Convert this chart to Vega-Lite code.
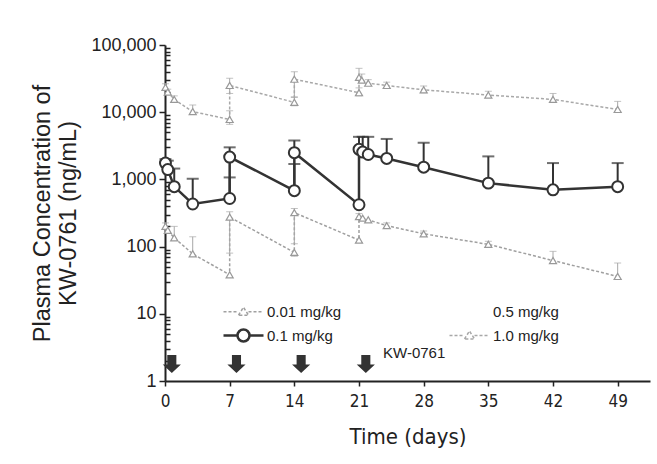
{
  "$schema": "https://vega.github.io/schema/vega-lite/v6.json",
  "width": 485,
  "height": 336,
  "autosize": {"type": "none"},
  "padding": {"left": 165, "top": 45, "right": 7, "bottom": 83},
  "background": "white",
  "config": {
    "view": {"stroke": null},
    "font": "Liberation Sans",
    "axis": {"grid": false, "domainColor": "#222", "tickColor": "#222", "labelColor": "#222", "titleColor": "#222", "domainWidth": 2, "tickWidth": 1.5}
  },
  "datasets": {
    "pk": [
      {"dose":"1.0 mg/kg","day":0.05,"conc":23500,"hi":26500,"seq":1},
      {"dose":"1.0 mg/kg","day":0.3,"conc":20000,"hi":22000,"seq":2},
      {"dose":"1.0 mg/kg","day":1,"conc":15500,"hi":17500,"seq":3},
      {"dose":"1.0 mg/kg","day":3,"conc":10200,"hi":12800,"seq":4},
      {"dose":"1.0 mg/kg","day":7,"conc":7800,"hi":10500,"lo":6600,"seq":5},
      {"dose":"1.0 mg/kg","day":7,"conc":25000,"hi":32000,"lo":19000,"seq":6},
      {"dose":"1.0 mg/kg","day":14,"conc":14000,"hi":16500,"lo":12500,"seq":7},
      {"dose":"1.0 mg/kg","day":14,"conc":31000,"hi":40000,"lo":17000,"seq":8},
      {"dose":"1.0 mg/kg","day":21,"conc":19500,"hi":23000,"lo":17500,"seq":9},
      {"dose":"1.0 mg/kg","day":21,"conc":33000,"hi":45000,"seq":10},
      {"dose":"1.0 mg/kg","day":21.3,"conc":30000,"hi":37000,"seq":11},
      {"dose":"1.0 mg/kg","day":22,"conc":27000,"hi":30500,"seq":12},
      {"dose":"1.0 mg/kg","day":24,"conc":25000,"hi":28000,"seq":13},
      {"dose":"1.0 mg/kg","day":28,"conc":21500,"hi":24500,"lo":19500,"seq":14},
      {"dose":"1.0 mg/kg","day":35,"conc":18000,"hi":20500,"seq":15},
      {"dose":"1.0 mg/kg","day":42,"conc":15500,"hi":19000,"seq":16},
      {"dose":"1.0 mg/kg","day":49,"conc":11000,"hi":14500,"lo":10000,"seq":17},
      {"dose":"0.1 mg/kg","day":0.05,"conc":1750,"hi":2000,"seq":1},
      {"dose":"0.1 mg/kg","day":0.3,"conc":1400,"hi":1900,"seq":2},
      {"dose":"0.1 mg/kg","day":1,"conc":780,"hi":1450,"seq":3},
      {"dose":"0.1 mg/kg","day":3,"conc":430,"hi":1020,"seq":4},
      {"dose":"0.1 mg/kg","day":7,"conc":520,"hi":1070,"seq":5},
      {"dose":"0.1 mg/kg","day":7,"conc":2150,"hi":3000,"seq":6},
      {"dose":"0.1 mg/kg","day":14,"conc":680,"hi":1700,"seq":7},
      {"dose":"0.1 mg/kg","day":14,"conc":2500,"hi":3800,"seq":8},
      {"dose":"0.1 mg/kg","day":21,"conc":420,"seq":9},
      {"dose":"0.1 mg/kg","day":21,"conc":2800,"hi":4300,"seq":10},
      {"dose":"0.1 mg/kg","day":21.4,"conc":2550,"hi":4300,"seq":11},
      {"dose":"0.1 mg/kg","day":22,"conc":2350,"hi":4300,"seq":12},
      {"dose":"0.1 mg/kg","day":24,"conc":2050,"hi":4000,"seq":13},
      {"dose":"0.1 mg/kg","day":28,"conc":1520,"hi":3500,"seq":14},
      {"dose":"0.1 mg/kg","day":35,"conc":880,"hi":2200,"seq":15},
      {"dose":"0.1 mg/kg","day":42,"conc":700,"hi":1750,"seq":16},
      {"dose":"0.1 mg/kg","day":49,"conc":780,"hi":1750,"seq":17},
      {"dose":"0.01 mg/kg","day":0.05,"conc":200,"hi":225,"seq":1},
      {"dose":"0.01 mg/kg","day":0.3,"conc":175,"seq":2},
      {"dose":"0.01 mg/kg","day":1,"conc":135,"hi":200,"seq":3},
      {"dose":"0.01 mg/kg","day":3,"conc":78,"hi":140,"seq":4},
      {"dose":"0.01 mg/kg","day":7,"conc":38,"seq":5},
      {"dose":"0.01 mg/kg","day":7,"conc":275,"hi":330,"lo":80,"seq":6},
      {"dose":"0.01 mg/kg","day":14,"conc":82,"lo":72,"seq":7},
      {"dose":"0.01 mg/kg","day":14,"conc":320,"hi":370,"lo":110,"seq":8},
      {"dose":"0.01 mg/kg","day":21,"conc":125,"lo":115,"seq":9},
      {"dose":"0.01 mg/kg","day":21,"conc":280,"hi":310,"seq":10},
      {"dose":"0.01 mg/kg","day":21.4,"conc":265,"seq":11},
      {"dose":"0.01 mg/kg","day":22,"conc":250,"seq":12},
      {"dose":"0.01 mg/kg","day":24,"conc":205,"hi":225,"seq":13},
      {"dose":"0.01 mg/kg","day":28,"conc":155,"hi":170,"seq":14},
      {"dose":"0.01 mg/kg","day":35,"conc":108,"hi":120,"seq":15},
      {"dose":"0.01 mg/kg","day":42,"conc":62,"hi":85,"seq":16},
      {"dose":"0.01 mg/kg","day":49,"conc":36,"hi":57,"seq":17}
    ],
    "dosing": [{"dosingDay": 0, "agent": "KW-0761"}, {"dosingDay": 7, "agent": "KW-0761"}, {"dosingDay": 14, "agent": "KW-0761"}, {"dosingDay": 21, "agent": "KW-0761"}]
  },
  "layer": [
    {
      "data": {"name": "pk"},
      "transform": [{"filter": "datum.dose !== '0.1 mg/kg'"}],
      "mark": {"type": "line", "strokeWidth": 1.5, "strokeDash": [3, 2]},
      "encoding": {
        "x": {
          "field": "day", "type": "quantitative",
          "scale": {"domain": [0, 52.5], "nice": false, "zero": false},
          "axis": {
            "values": [0, 7, 14, 21, 28, 35, 42, 49],
            "tickSize": 5,
            "labelFont": "DejaVu Sans Condensed",
            "labelFontSize": 17,
            "labelPadding": 7,
            "labelFlush": false,
            "title": "Time (days)",
            "titleFont": "DejaVu Sans Condensed",
            "titleFontSize": 22,
            "titleFontWeight": "normal",
            "titlePadding": 17
          }
        },
        "y": {
          "field": "conc", "type": "quantitative",
          "scale": {"type": "log", "domain": [1, 100000], "nice": false},
          "axis": {
            "values": [1,2,3,4,5,6,7,8,9,10,20,30,40,50,60,70,80,90,100,200,300,400,500,600,700,800,900,1000,2000,3000,4000,5000,6000,7000,8000,9000,10000,20000,30000,40000,50000,60000,70000,80000,90000,100000],
            "labelExpr": "indexof([1,10,100,1000,10000,100000], datum.value) >= 0 ? format(datum.value, ',') : ''",
            "tickSize": {"condition": {"test": "indexof([1,10,100,1000,10000,100000], datum.value) >= 0", "value": 6}, "value": -5},
            "labelFontSize": 18,
            "labelPadding": 3,
            "labelFlush": false,
            "labelOverlap": false,
            "title": ["Plasma Concentration of", "KW-0761 (ng/mL)"],
            "titleFontSize": 23.5,
            "titleFontWeight": "normal",
            "titleLineHeight": 26,
            "titlePadding": 10
          }
        },
        "order": {"field": "seq"},
        "detail": {"field": "dose"},
        "color": {
          "field": "dose", "type": "nominal",
          "scale": {"domain": ["0.01 mg/kg", "0.1 mg/kg", "0.5 mg/kg", "1.0 mg/kg"], "range": ["#a0a0a0", "#333333", "#ffffff", "#a8a8a8"]},
          "legend": {
            "values": ["0.01 mg/kg", "0.1 mg/kg", "0.5 mg/kg", "1.0 mg/kg"],
            "orient": "none", "legendX": 57, "legendY": 259,
            "title": null, "columns": 2, "columnPadding": 104, "rowPadding": 4, "padding": 0,
            "labelFont": "Liberation Sans", "labelFontSize": 15, "labelColor": "#222",
            "symbolSize": 100, "symbolStrokeWidth": 2, "labelOffset": 30,
            "encode": {
              "symbols": {
                "update": {
                  "shape": {"signal": "datum.value === '0.1 mg/kg' ? 'M-1.2,0H1.6M4,0H6.8M4,0A1.2,1.2 0 1 1 1.6,0A1.2,1.2 0 1 1 4,0' : (datum.value === '0.5 mg/kg' ? 'M0,0' : 'M-1.2,0H1.8M3.8,0H6.8M1.8,0.7L2.8,-0.9L3.8,0.7Z')"},
                  "stroke": {"signal": "datum.value === '0.1 mg/kg' ? '#333333' : '#a0a0a0'"},
                  "strokeDash": {"signal": "datum.value === '0.1 mg/kg' ? [] : [3, 2]"},
                  "strokeWidth": {"signal": "datum.value === '0.1 mg/kg' ? 2.5 : 1.5"},
                  "fill": {"value": "#ffffff"},
                  "opacity": {"value": 1}
                }
              }
            }
          }
        }
      }
    },
    {
      "data": {"name": "pk"},
      "transform": [{"filter": "datum.dose !== '0.1 mg/kg' && isValid(datum.hi)"}],
      "mark": {"type": "rule", "color": "#a8a8a8", "strokeWidth": 1},
      "encoding": {"x": {"field": "day", "type": "quantitative"}, "y": {"field": "conc", "type": "quantitative"}, "y2": {"field": "hi"}}
    },
    {
      "data": {"name": "pk"},
      "transform": [{"filter": "datum.dose !== '0.1 mg/kg' && isValid(datum.hi)"}],
      "mark": {"type": "tick", "orient": "horizontal", "color": "#a8a8a8", "thickness": 1, "size": 7},
      "encoding": {"x": {"field": "day", "type": "quantitative"}, "y": {"field": "hi", "type": "quantitative"}}
    },
    {
      "data": {"name": "pk"},
      "transform": [{"filter": "datum.dose !== '0.1 mg/kg' && isValid(datum.lo)"}],
      "mark": {"type": "rule", "color": "#a8a8a8", "strokeWidth": 1},
      "encoding": {"x": {"field": "day", "type": "quantitative"}, "y": {"field": "conc", "type": "quantitative"}, "y2": {"field": "lo"}}
    },
    {
      "data": {"name": "pk"},
      "transform": [{"filter": "datum.dose !== '0.1 mg/kg' && isValid(datum.lo)"}],
      "mark": {"type": "tick", "orient": "horizontal", "color": "#a8a8a8", "thickness": 1, "size": 7},
      "encoding": {"x": {"field": "day", "type": "quantitative"}, "y": {"field": "lo", "type": "quantitative"}}
    },
    {
      "data": {"name": "pk"},
      "transform": [{"filter": "datum.dose !== '0.1 mg/kg'"}],
      "mark": {"type": "point", "shape": "triangle-up", "filled": true, "fill": "#ffffff", "stroke": "#999999", "strokeWidth": 1.2, "size": 50, "opacity": 1},
      "encoding": {"x": {"field": "day", "type": "quantitative"}, "y": {"field": "conc", "type": "quantitative"}}
    },
    {
      "data": {"name": "pk"},
      "transform": [{"filter": "datum.dose === '0.1 mg/kg' && isValid(datum.hi)"}],
      "mark": {"type": "rule", "color": "#333333", "strokeWidth": 2},
      "encoding": {"x": {"field": "day", "type": "quantitative"}, "y": {"field": "conc", "type": "quantitative"}, "y2": {"field": "hi"}}
    },
    {
      "data": {"name": "pk"},
      "transform": [{"filter": "datum.dose === '0.1 mg/kg' && isValid(datum.hi)"}],
      "mark": {"type": "tick", "orient": "horizontal", "color": "#333333", "thickness": 2, "size": 12},
      "encoding": {"x": {"field": "day", "type": "quantitative"}, "y": {"field": "hi", "type": "quantitative"}}
    },
    {
      "data": {"name": "pk"},
      "transform": [{"filter": "datum.dose === '0.1 mg/kg'"}],
      "mark": {"type": "line", "color": "#333333", "strokeWidth": 2.5},
      "encoding": {"x": {"field": "day", "type": "quantitative"}, "y": {"field": "conc", "type": "quantitative"}, "order": {"field": "seq"}}
    },
    {
      "data": {"name": "pk"},
      "transform": [{"filter": "datum.dose === '0.1 mg/kg'"}],
      "mark": {"type": "point", "shape": "circle", "filled": true, "fill": "#ffffff", "stroke": "#333333", "strokeWidth": 2, "size": 120, "opacity": 1},
      "encoding": {"x": {"field": "day", "type": "quantitative"}, "y": {"field": "conc", "type": "quantitative"}}
    },
    {
      "data": {"name": "dosing"},
      "mark": {"type": "point", "filled": true, "color": "#333333", "size": 330, "opacity": 1, "shape": "M0.25,-1H1.25V0.05H1.75L0.75,1L-0.25,0.05H0.25Z"},
      "encoding": {"x": {"field": "dosingDay", "type": "quantitative"}, "y": {"datum": 1.79}}
    },
    {
      "data": {"name": "dosing"},
      "transform": [{"filter": "datum.dosingDay === 21"}],
      "mark": {"type": "text", "align": "left", "baseline": "middle", "fontSize": 15, "color": "#222", "dx": 24},
      "encoding": {"x": {"field": "dosingDay", "type": "quantitative"}, "y": {"datum": 2.6}, "text": {"field": "agent"}}
    }
  ]
}
